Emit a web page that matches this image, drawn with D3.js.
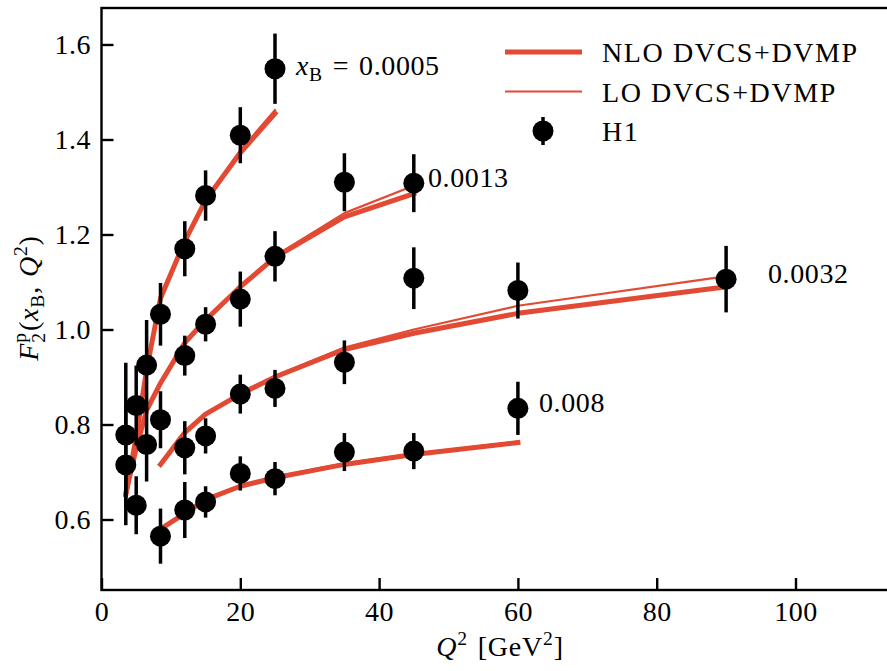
<!DOCTYPE html>
<html><head><meta charset="utf-8">
<script src="https://cdn.jsdelivr.net/npm/d3@7"></script>
<style>
body{margin:0;background:#fff}
svg{display:block}
text{font-family:"Liberation Serif","Times New Roman",serif;fill:#000}
</style>
</head><body>
<svg id="chart" width="887" height="671"></svg>
<script>
// ---------- data ----------
const seriesLabels = ["0.0005", "0.0013", "0.0032", "0.008"];

// H1 data points
const h1Q_0005 = [3.5, 5, 6.5, 8.5, 12, 15, 20, 25];
const h1F_0005 = [0.778, 0.84, 0.925, 1.032, 1.17, 1.282, 1.409, 1.549];
const h1E_0005 = [0.152, 0.084, 0.095, 0.066, 0.058, 0.053, 0.059, 0.074];

const h1Q_0013 = [3.5, 5, 6.5, 8.5, 12, 15, 20, 25, 35, 45];
const h1F_0013 = [0.715, 0.63, 0.758, 0.81, 0.945, 1.011, 1.064, 1.154, 1.31, 1.308];
const h1E_0013 = [0.127, 0.061, 0.078, 0.06, 0.042, 0.036, 0.058, 0.053, 0.061, 0.061];

const h1Q_0032 = [12, 15, 20, 25, 35, 45, 60, 90];
const h1F_0032 = [0.751, 0.776, 0.864, 0.876, 0.931, 1.108, 1.082, 1.106];
const h1E_0032 = [0.056, 0.037, 0.041, 0.039, 0.046, 0.065, 0.059, 0.07];

const h1Q_008 = [8.5, 12, 15, 20, 25, 35, 45, 60];
const h1F_008 = [0.565, 0.62, 0.637, 0.697, 0.686, 0.742, 0.744, 0.834];
const h1E_008 = [0.058, 0.059, 0.033, 0.036, 0.035, 0.04, 0.038, 0.056];

// model curves
const mQ_0005 = [3.5, 5, 6.5, 8.5, 12, 15, 20, 25];
const nlo_0005 = [0.652, 0.775, 0.915, 1.066, 1.186, 1.272, 1.372, 1.455];
const lo_0005  = [0.652, 0.775, 0.915, 1.066, 1.188, 1.275, 1.377, 1.462];

const mQ_0013 = [3.5, 5, 6.5, 8.5, 12, 15, 20, 25, 35, 45];
const nlo_0013 = [0.655, 0.75, 0.83, 0.887, 0.972, 1.02, 1.09, 1.152, 1.237, 1.286];
const lo_0013  = [0.655, 0.75, 0.83, 0.887, 0.972, 1.021, 1.092, 1.155, 1.245, 1.303];

const mQ_0032 = [8.5, 12, 15, 20, 25, 35, 45, 60, 90];
const nlo_0032 = [0.716, 0.783, 0.822, 0.864, 0.9, 0.958, 0.992, 1.034, 1.09];
const lo_0032  = [0.716, 0.783, 0.822, 0.866, 0.902, 0.962, 1.0, 1.05, 1.112];

const mQ_008 = [8.5, 12, 15, 20, 25, 35, 45, 60];
const nlo_008 = [0.58, 0.613, 0.642, 0.67, 0.688, 0.716, 0.737, 0.762];
const lo_008  = [0.58, 0.614, 0.643, 0.671, 0.69, 0.718, 0.739, 0.764];

const xTicks = [0, 20, 40, 60, 80, 100];
const yTicks = [0.6, 0.8, 1.0, 1.2, 1.4, 1.6];
const legendLabels = ["NLO DVCS+DVMP", "LO DVCS+DVMP", "H1"];

// ---------- build ----------
const RED = "#e24a33";
const svg = d3.select("#chart");
const L = 101.5, R = 899.6, T = 8, B = 590;
const x = d3.scaleLinear().domain([0, 115]).range([L, R]);
const y = d3.scaleLinear().domain([0.4516, 1.6768]).range([B, T]);

const h1 = [
  {q: h1Q_0005, f: h1F_0005, e: h1E_0005},
  {q: h1Q_0013, f: h1F_0013, e: h1E_0013},
  {q: h1Q_0032, f: h1F_0032, e: h1E_0032},
  {q: h1Q_008,  f: h1F_008,  e: h1E_008}
];
const models = [
  {q: mQ_0005, nlo: nlo_0005, lo: lo_0005},
  {q: mQ_0013, nlo: nlo_0013, lo: lo_0013},
  {q: mQ_0032, nlo: nlo_0032, lo: lo_0032},
  {q: mQ_008,  nlo: nlo_008,  lo: lo_008}
];

const line = d3.line().x(d => x(d[0])).y(d => y(d[1]));
const gLines = svg.append("g");
models.forEach(m => {
  gLines.append("path")
    .attr("d", line(m.q.map((q, i) => [q, m.nlo[i]])))
    .attr("fill", "none").attr("stroke", RED).attr("stroke-width", 5)
    .attr("stroke-linejoin", "round").attr("stroke-linecap", "square");
});
models.forEach(m => {
  gLines.append("path")
    .attr("d", line(m.q.map((q, i) => [q, m.lo[i]])))
    .attr("fill", "none").attr("stroke", RED).attr("stroke-width", 2.2)
    .attr("stroke-linejoin", "round").attr("stroke-linecap", "square");
});

const gPts = svg.append("g");
h1.forEach(s => {
  s.q.forEach((q, i) => {
    gPts.append("line")
      .attr("x1", x(q)).attr("x2", x(q))
      .attr("y1", y(s.f[i] - s.e[i])).attr("y2", y(s.f[i] + s.e[i]))
      .attr("stroke", "#000").attr("stroke-width", 3.5);
  });
});
h1.forEach(s => {
  s.q.forEach((q, i) => {
    gPts.append("circle").attr("cx", x(q)).attr("cy", y(s.f[i])).attr("r", 10.5).attr("fill", "#000");
  });
});

// axes
const FS = 28;
const xAxis = d3.axisBottom(x).tickValues(xTicks).tickFormat(d3.format("d"))
  .tickSizeInner(-12).tickSizeOuter(0).tickPadding(11);
const gx = svg.append("g").attr("transform", `translate(0,${B})`).call(xAxis);
const yAxis = d3.axisLeft(y).tickValues(yTicks).tickFormat(d3.format(".1f"))
  .tickSizeInner(-12).tickSizeOuter(0).tickPadding(10.5);
const gy = svg.append("g").attr("transform", `translate(${L},0)`).call(yAxis);
[gx, gy].forEach(g => {
  g.select(".domain").remove();
  g.selectAll(".tick line").attr("stroke", "#000").attr("stroke-width", 2.4);
  g.selectAll(".tick text").attr("font-size", FS).attr("font-family", "Liberation Serif")
    .attr("fill", "#000").attr("letter-spacing", 0.5);
});
// frame
svg.append("rect").attr("x", L).attr("y", T).attr("width", R - L).attr("height", B - T)
  .attr("fill", "none").attr("stroke", "#000").attr("stroke-width", 2.4);

// series labels
const labelPos = [[296, 75], [428, 187], [768, 283], [539, 412]];
labelPos.forEach((p, i) => {
  const t = svg.append("text").attr("x", p[0]).attr("y", p[1]).attr("font-size", FS)
    .attr("letter-spacing", 0.6);
  if (i === 0) {
    t.append("tspan").attr("font-style", "italic").text("x");
    t.append("tspan").attr("font-size", FS * 0.7).attr("dy", 6).text("B");
    t.append("tspan").attr("dy", -6).attr("dx", 10).text("=");
    t.append("tspan").attr("dx", 10).text(seriesLabels[i]);
  } else {
    t.text(seriesLabels[i]);
  }
});

// axis labels
const xl = svg.append("text").attr("x", 500).attr("y", 656).attr("text-anchor", "middle")
  .attr("font-size", FS).attr("letter-spacing", 0.8);
xl.append("tspan").attr("font-style", "italic").text("Q");
xl.append("tspan").attr("font-size", FS * 0.7).attr("dy", -11).text("2");
xl.append("tspan").attr("dy", 11).attr("dx", 2).text(" [GeV");
xl.append("tspan").attr("font-size", FS * 0.7).attr("dy", -11).text("2");
xl.append("tspan").attr("dy", 11).text("]");

const yl = svg.append("text").attr("transform", "translate(38,298) rotate(-90)")
  .attr("text-anchor", "middle").attr("font-size", FS).attr("letter-spacing", 0.8);
yl.append("tspan").attr("font-style", "italic").text("F");
yl.append("tspan").attr("font-size", FS * 0.7).attr("dy", 7).text("2");
yl.append("tspan").attr("font-size", FS * 0.7).attr("dx", -10.5).attr("dy", -19).text("p");
yl.append("tspan").attr("dy", 12).attr("dx", 1).text("(");
yl.append("tspan").attr("font-style", "italic").text("x");
yl.append("tspan").attr("font-size", FS * 0.7).attr("dy", 6).text("B");
yl.append("tspan").attr("dy", -6).text(",");
yl.append("tspan").attr("font-style", "italic").attr("dx", 9).text("Q");
yl.append("tspan").attr("font-size", FS * 0.7).attr("dy", -11).text("2");
yl.append("tspan").attr("dy", 11).text(")");

// legend
const lg = svg.append("g");
const rows = [52, 91.5, 131];
lg.append("line").attr("x1", 505).attr("x2", 582).attr("y1", rows[0]).attr("y2", rows[0])
  .attr("stroke", RED).attr("stroke-width", 5);
lg.append("line").attr("x1", 505).attr("x2", 582).attr("y1", rows[1]).attr("y2", rows[1])
  .attr("stroke", RED).attr("stroke-width", 2.2);
lg.append("line").attr("x1", 543).attr("x2", 543).attr("y1", rows[2] - 14).attr("y2", rows[2] + 14)
  .attr("stroke", "#000").attr("stroke-width", 3.5);
lg.append("circle").attr("cx", 543).attr("cy", rows[2]).attr("r", 10.5).attr("fill", "#000");
legendLabels.forEach((t, i) => {
  lg.append("text").attr("x", 602).attr("y", rows[i] + 10).attr("font-size", FS)
    .attr("letter-spacing", 1.6).text(t);
});
</script>
</body></html>
